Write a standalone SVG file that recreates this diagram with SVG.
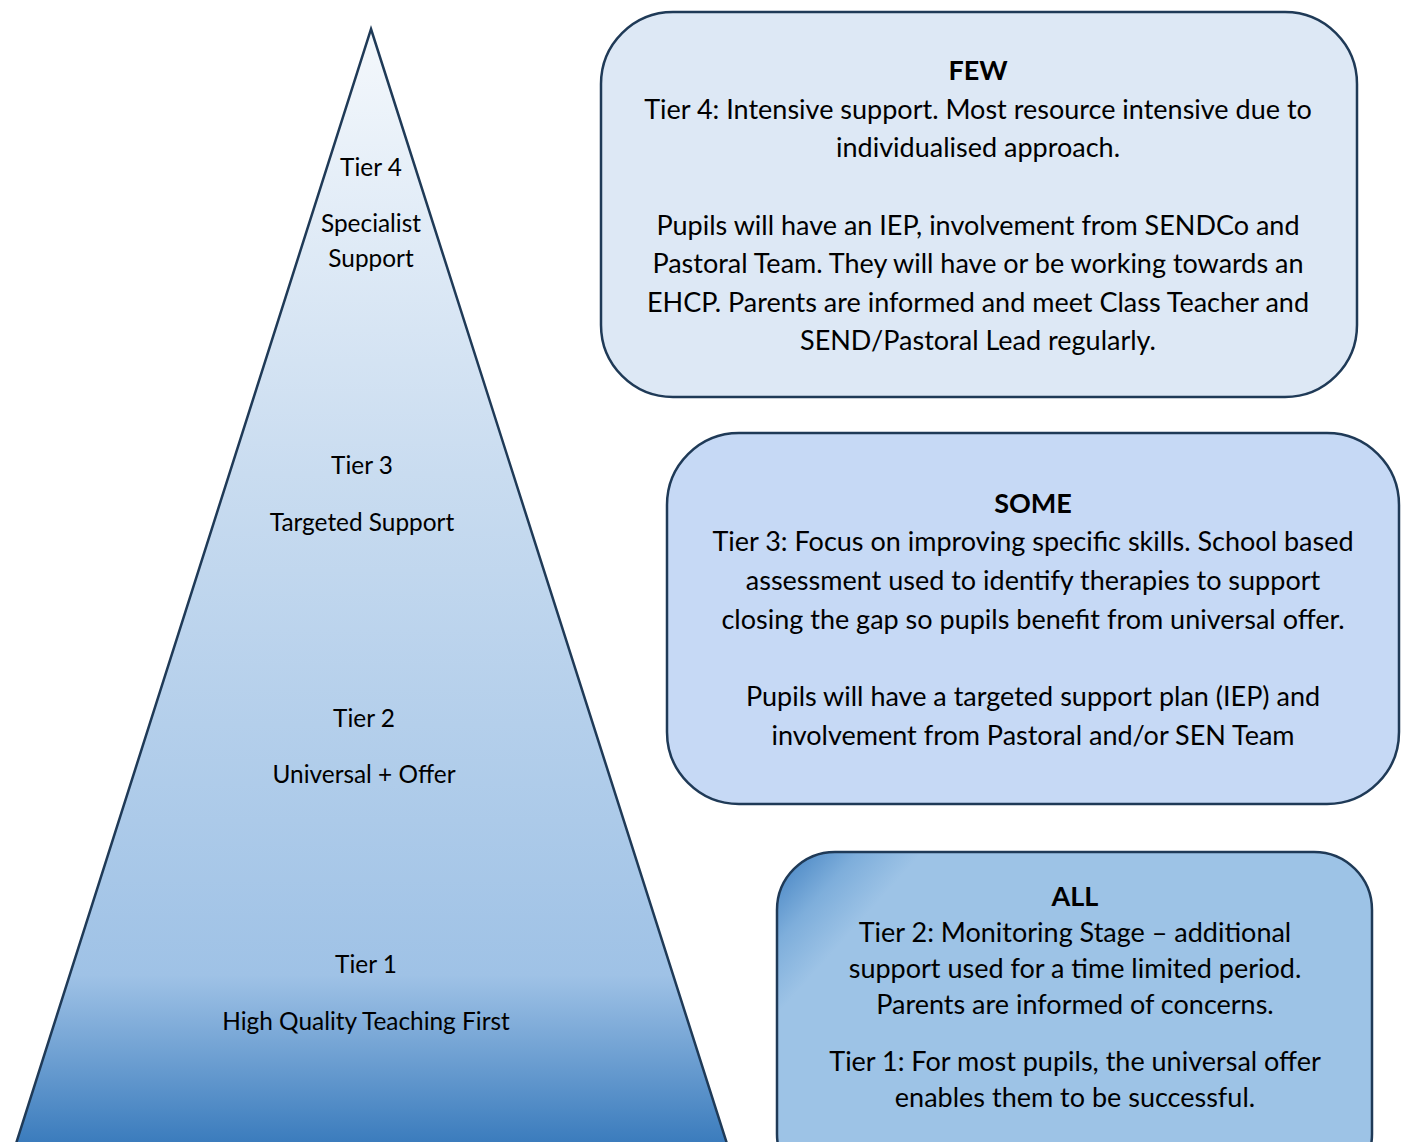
<svg xmlns="http://www.w3.org/2000/svg" width="1403" height="1142" viewBox="0 0 1403 1142">
<defs>
<linearGradient id="tri" x1="0" y1="29" x2="0" y2="1142" gradientUnits="userSpaceOnUse">
<stop offset="0" stop-color="#f4f8fc"/>
<stop offset="0.4" stop-color="#c9dcf0"/>
<stop offset="0.85" stop-color="#9fc2e6"/>
<stop offset="1" stop-color="#3b7cbd"/>
</linearGradient>
<linearGradient id="allg" x1="777" y1="852" x2="1100" y2="1142" gradientUnits="userSpaceOnUse">
<stop offset="0" stop-color="#3f7fc0"/>
<stop offset="0.14" stop-color="#7eaedb"/>
<stop offset="0.25" stop-color="#9dc3e6"/>
<stop offset="1" stop-color="#9dc3e6"/>
</linearGradient>
<style>
text{font-family:Lato,"Open Sans","Liberation Sans",sans-serif;fill:#000;text-anchor:middle;dominant-baseline:central}
.t{font-size:24.4px}
.b{font-size:27px}
.h{font-weight:bold}
.box{stroke:#1f3a57;stroke-width:2.5}
</style>
</defs>
<g id="pyramid">
<polygon points="371,29 729,1150 14,1150" fill="url(#tri)" stroke="#1f3a57" stroke-width="2.5" stroke-linejoin="miter"/>
<text class="t" x="371" y="166">Tier 4</text>
<text class="t" x="371" y="222">Specialist</text>
<text class="t" x="371" y="257">Support</text>
<text class="t" x="362" y="464">Tier 3</text>
<text class="t" x="362" y="521">Targeted Support</text>
<text class="t" x="364" y="717">Tier 2</text>
<text class="t" x="364" y="773">Universal + Offer</text>
<text class="t" x="366" y="963">Tier 1</text>
<text class="t" x="366" y="1020">High Quality Teaching First</text>
</g>
<g id="few">
<rect class="box" x="601" y="12" width="756" height="385" rx="72" fill="#dde8f5"/>
<text class="b h" x="978" y="69">FEW</text>
<text class="b" x="978" y="108">Tier 4: Intensive support. Most resource intensive due to</text>
<text class="b" x="978" y="146">individualised approach.</text>
<text class="b" x="978" y="224">Pupils will have an IEP, involvement from SENDCo and</text>
<text class="b" x="978" y="262">Pastoral Team. They will have or be working towards an</text>
<text class="b" x="978" y="301">EHCP. Parents are informed and meet Class Teacher and</text>
<text class="b" x="978" y="339">SEND/Pastoral Lead regularly.</text>
</g>
<g id="some">
<rect class="box" x="667" y="433" width="732" height="371" rx="72" fill="#c6d9f5"/>
<text class="b h" x="1033" y="502">SOME</text>
<text class="b" x="1033" y="540">Tier 3: Focus on improving specific skills. School based</text>
<text class="b" x="1033" y="579">assessment used to identify therapies to support</text>
<text class="b" x="1033" y="618">closing the gap so pupils benefit from universal offer.</text>
<text class="b" x="1033" y="695">Pupils will have a targeted support plan (IEP) and</text>
<text class="b" x="1033" y="734">involvement from Pastoral and/or SEN Team</text>
</g>
<g id="all">
<rect class="box" x="777" y="852" width="595" height="340" rx="58" fill="url(#allg)"/>
<text class="b h" x="1075" y="895">ALL</text>
<text class="b" x="1075" y="931">Tier 2: Monitoring Stage – additional</text>
<text class="b" x="1075" y="967">support used for a time limited period.</text>
<text class="b" x="1075" y="1003">Parents are informed of concerns.</text>
<text class="b" x="1075" y="1060">Tier 1: For most pupils, the universal offer</text>
<text class="b" x="1075" y="1096">enables them to be successful.</text>
</g>
<g id="connectors"/>
</svg>
